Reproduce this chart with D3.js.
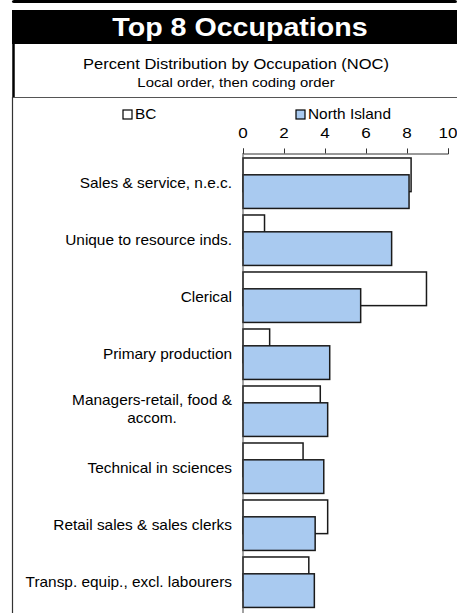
<!DOCTYPE html>
<html>
<head>
<meta charset="utf-8">
<script src="https://cdn.jsdelivr.net/npm/d3@7/dist/d3.min.js"></script>
<style>
  body { margin: 0; background: #fff; }
  svg { display: block; font-family: "Liberation Sans", Arial, sans-serif; }
</style>
</head>
<body>
<script>
const categories = [
  'Sales & service, n.e.c.',
  'Unique to resource inds.',
  'Clerical',
  'Primary production',
  'Managers-retail, food & accom.',
  'Technical in sciences',
  'Retail sales & sales clerks',
  'Transp. equip., excl. labourers'
];
const bcValues = [8.2, 1.05, 8.95, 1.3, 3.77, 2.93, 4.13, 3.21];
const northIslandValues = [8.1, 7.25, 5.74, 4.23, 4.13, 3.94, 3.52, 3.48];
const xTicks = [0, 2, 4, 6, 8, 10];
const seriesNames = ['BC', 'North Island'];

const W = 457, H = 613;
const SX = 1.1; // text in the picture is a little wide

const svg = d3.select('body').append('svg')
  .attr('width', W)
  .attr('height', H);

function addText(g, x, y, str, size, anchor, opts) {
  opts = opts || {};
  return g.append('text')
    .attr('transform', `translate(${x},${y}) scale(${SX},1)`)
    .attr('text-anchor', anchor)
    .style('font-size', size + 'px')
    .style('font-weight', opts.bold ? 'bold' : 'normal')
    .attr('fill', opts.fill || '#000')
    .text(str);
}

// frame
svg.append('rect').attr('x', 12).attr('y', 0).attr('width', W - 12).attr('height', 3)
  .attr('rx', 2).attr('fill', '#000');
svg.append('rect').attr('x', 12).attr('y', 10).attr('width', W - 12).attr('height', 34)
  .attr('fill', '#000');
svg.append('line').attr('x1', 13.5).attr('x2', 13.5).attr('y1', 44).attr('y2', 97)
  .attr('stroke', '#000').attr('stroke-width', 2.5);
svg.append('line').attr('x1', 12).attr('x2', W).attr('y1', 97.5).attr('y2', 97.5)
  .attr('stroke', '#555').attr('stroke-width', 1);
svg.append('line').attr('x1', 12.5).attr('x2', 12.5).attr('y1', 97).attr('y2', H)
  .attr('stroke', '#333').attr('stroke-width', 1.2);

addText(svg, 240, 36, 'Top 8 Occupations', 26, 'middle', { bold: true, fill: '#fff' });
addText(svg, 236, 69, 'Percent Distribution by Occupation (NOC)', 15, 'middle');
addText(svg, 236, 87, 'Local order, then coding order', 13.5, 'middle');

// scales
const x = d3.scaleLinear().domain([0, 10]).range([243, 448]);
const y = d3.scaleBand().domain(categories).range([154, 610]).padding(0);
const bw = y.bandwidth();
const barH = bw * 0.59;

// axis
const axis = svg.append('g')
  .attr('transform', 'translate(0,153.5)')
  .call(d3.axisTop(x).tickValues(xTicks).tickSize(5).tickPadding(12));
axis.select('.domain').attr('stroke', '#333');
axis.selectAll('.tick line').attr('stroke', '#333');
axis.selectAll('.tick text').remove();
xTicks.forEach(t => addText(axis, x(t), -16, String(t), 15.5, 'middle'));

// bars
const bars = svg.append('g');
bars.selectAll('rect.bc')
  .data(categories)
  .join('rect')
  .attr('class', 'bc')
  .attr('x', x(0))
  .attr('y', (d) => y(d) + bw * 0.07)
  .attr('width', (d, i) => x(bcValues[i]) - x(0))
  .attr('height', barH)
  .attr('fill', '#fff')
  .attr('stroke', '#1a1a1a')
  .attr('stroke-width', 1.5);
bars.selectAll('rect.ni')
  .data(categories)
  .join('rect')
  .attr('class', 'ni')
  .attr('x', x(0))
  .attr('y', (d) => y(d) + bw * 0.07 + barH * 0.5)
  .attr('width', (d, i) => x(northIslandValues[i]) - x(0))
  .attr('height', barH)
  .attr('fill', '#a9caf0')
  .attr('stroke', '#1a1a1a')
  .attr('stroke-width', 1.5);

// vertical axis line
svg.append('line').attr('x1', 243).attr('x2', 243).attr('y1', 153).attr('y2', H)
  .attr('stroke', '#444').attr('stroke-width', 1);

// category labels
const labels = svg.append('g');
categories.forEach((c) => {
  const cy = y(c) + bw * 0.07 + barH * 0.75;
  if (c.startsWith('Managers')) {
    const lines = ['Managers-retail, food &', 'accom.'];
    const t = addText(labels, 0, 0, lines[0], 14, 'middle');
    const w = t.node().getComputedTextLength() * SX;
    t.remove();
    const mid = 232 - w / 2;
    lines.forEach((ln, k) => addText(labels, mid, cy - 6 + k * 18, ln, 14, 'middle'));
  } else {
    addText(labels, 232, cy + 5, c, 14, 'end');
  }
});

// legend
const legend = svg.append('g');
const legendX = [123, 296];
seriesNames.forEach((s, i) => {
  legend.append('rect')
    .attr('x', legendX[i]).attr('y', 110).attr('width', 9).attr('height', 9)
    .attr('fill', i === 0 ? '#fff' : '#a9caf0')
    .attr('stroke', '#000').attr('stroke-width', 1.2);
  addText(legend, legendX[i] + 12, 119, s, 14, 'start');
});
</script>
</body>
</html>
